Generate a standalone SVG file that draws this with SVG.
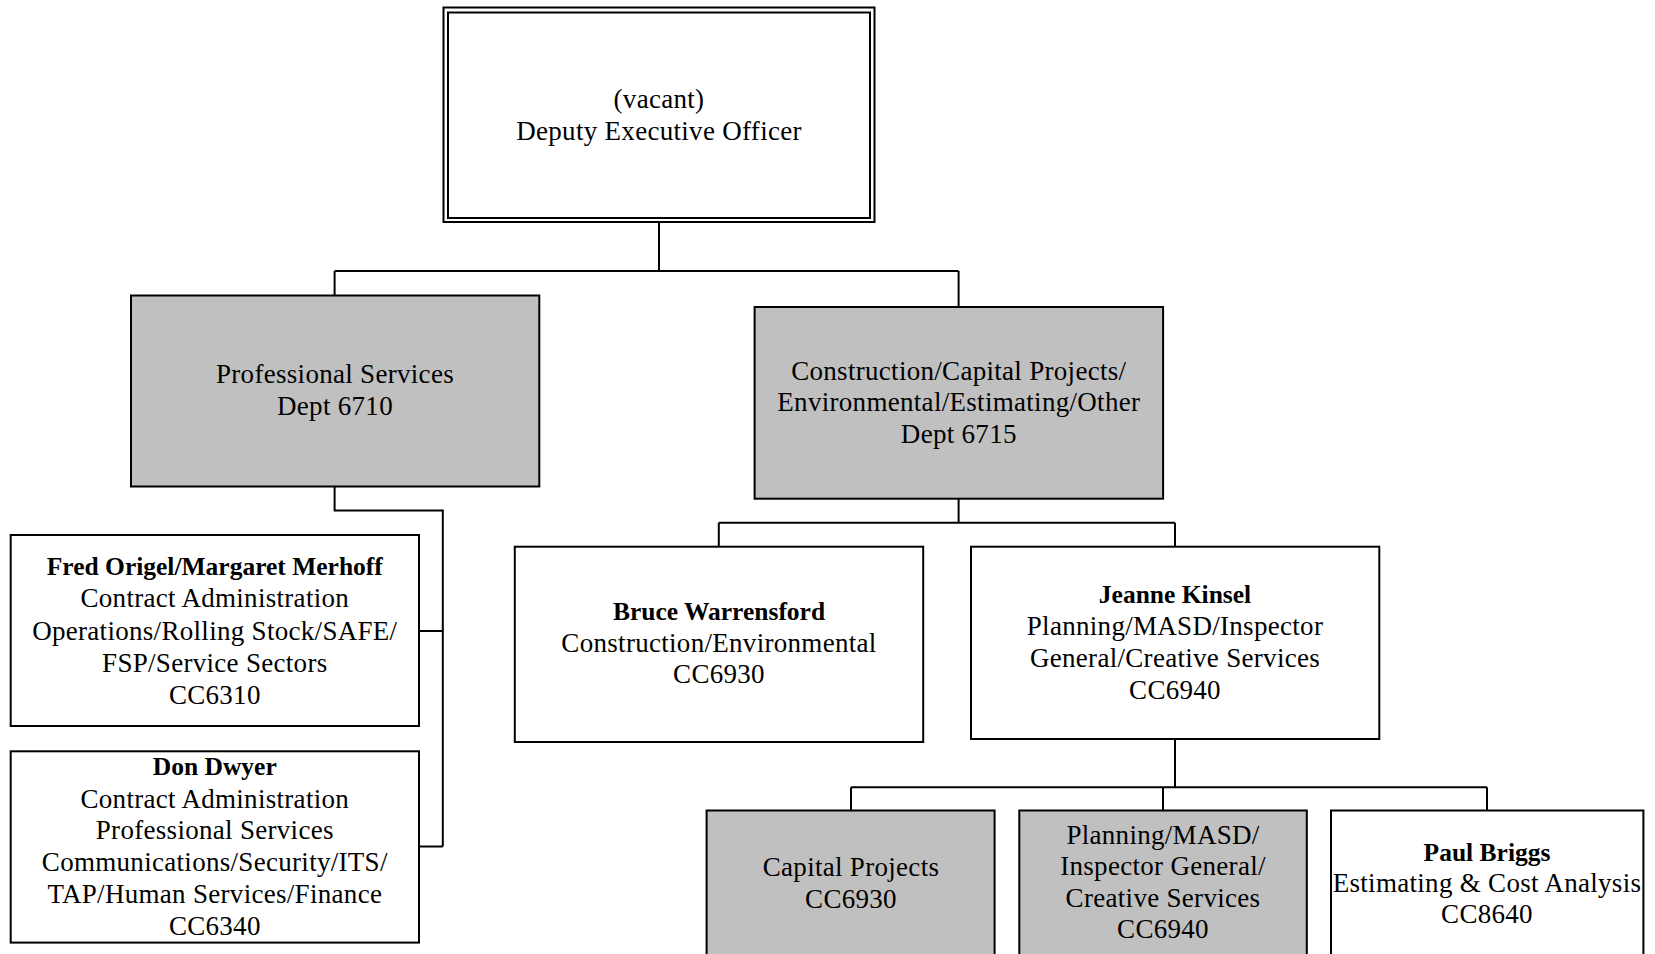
<svg xmlns="http://www.w3.org/2000/svg" width="1655" height="954" viewBox="0 0 1655 954">
<style>
.box{fill:#ffffff;stroke:#000000;stroke-width:2}
.gray{fill:#c0c0c0;stroke:#000000;stroke-width:2}
.conn{fill:none;stroke:#000000;stroke-width:2}
text{font-family:"Liberation Serif","Times New Roman",serif;font-size:27px;fill:#000000;text-anchor:middle;letter-spacing:0.3px}
.b{font-weight:bold;font-size:25.5px;letter-spacing:0px}
</style>
<rect width="1655" height="954" fill="#ffffff"/>
<g id="connectors">
<path class="conn" d="M659 222 V271 M334.6 271 H958.6 M334.6 271 V295.5 M958.6 271 V307"/>
<path class="conn" d="M334.6 486.6 V510.5 H442.8 V846.5 M419 631 H442.8 M419 846.5 H442.8"/>
<path class="conn" d="M958.6 498.5 V522.7 M718.8 522.7 H1175 M718.8 522.7 V546.7 M1175 522.7 V546.7"/>
<path class="conn" d="M1175 739 V787.3 M851 787.3 H1487 M851 787.3 V810.5 M1163 787.3 V810.5 M1487 787.3 V810.5"/>
</g>
<g id="deputy">
<rect class="box" x="443.5" y="7.5" width="431" height="214.5"/>
<rect class="box" x="448" y="12.5" width="422" height="205.5" fill="none"/>
<text x="659" y="108">(vacant)</text>
<text x="659" y="139.8">Deputy Executive Officer</text>
</g>
<g id="professional">
<rect class="gray" x="131" y="295.5" width="408.3" height="191"/>
<text x="335" y="382.7">Professional Services</text>
<text x="335" y="415">Dept 6710</text>
</g>
<g id="construction">
<rect class="gray" x="754.6" y="307" width="408.5" height="191.7"/>
<text x="958.8" y="379.5">Construction/Capital Projects/</text>
<text x="958.8" y="411">Environmental/Estimating/Other</text>
<text x="958.8" y="442.5">Dept 6715</text>
</g>
<g id="fred">
<rect class="box" x="10.7" y="535" width="408.3" height="191"/>
<text class="b" x="214.8" y="575">Fred Origel/Margaret Merhoff</text>
<text x="214.8" y="607.3">Contract Administration</text>
<text x="214.8" y="639.5">Operations/Rolling Stock/SAFE/</text>
<text x="214.8" y="671.8">FSP/Service Sectors</text>
<text x="214.8" y="704">CC6310</text>
</g>
<g id="don">
<rect class="box" x="10.7" y="751.3" width="408.3" height="191.3"/>
<text class="b" x="214.8" y="775.3">Don Dwyer</text>
<text x="214.8" y="807.5">Contract Administration</text>
<text x="214.8" y="839.3">Professional Services</text>
<text x="214.8" y="871.2">Communications/Security/ITS/</text>
<text x="214.8" y="903.2">TAP/Human Services/Finance</text>
<text x="214.8" y="935">CC6340</text>
</g>
<g id="bruce">
<rect class="box" x="514.8" y="546.7" width="408.4" height="195.3"/>
<text class="b" x="719" y="620">Bruce Warrensford</text>
<text x="719" y="651.7">Construction/Environmental</text>
<text x="719" y="683.3">CC6930</text>
</g>
<g id="jeanne">
<rect class="box" x="971" y="546.7" width="408.3" height="192.3"/>
<text class="b" x="1175" y="602.7">Jeanne Kinsel</text>
<text x="1175" y="635">Planning/MASD/Inspector</text>
<text x="1175" y="667">General/Creative Services</text>
<text x="1175" y="698.5">CC6940</text>
</g>
<g id="capital">
<rect class="gray" x="706.6" y="810.5" width="288" height="160"/>
<text x="851" y="876">Capital Projects</text>
<text x="851" y="907.6">CC6930</text>
</g>
<g id="planning">
<rect class="gray" x="1019.3" y="810.5" width="287.5" height="160"/>
<text x="1163" y="843.5">Planning/MASD/</text>
<text x="1163" y="875">Inspector General/</text>
<text x="1163" y="906.5">Creative Services</text>
<text x="1163" y="938">CC6940</text>
</g>
<g id="paul">
<rect class="box" x="1331" y="810.5" width="312.4" height="160"/>
<text class="b" x="1487" y="861">Paul Briggs</text>
<text x="1487" y="892">Estimating &amp; Cost Analysis</text>
<text x="1487" y="923">CC8640</text>
</g>
</svg>
